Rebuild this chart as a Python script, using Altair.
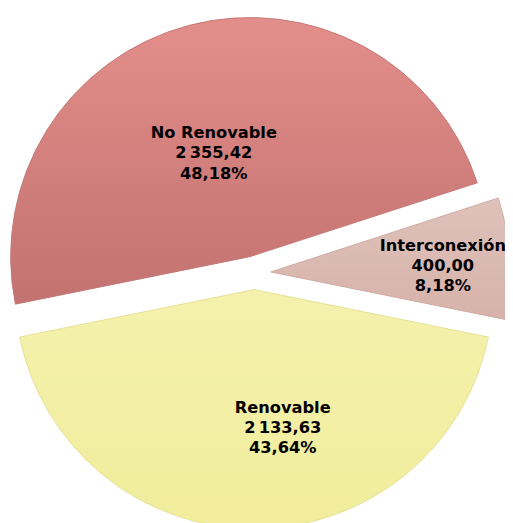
import math
import altair as alt
import pandas as pd

# ---- data ----
categories = ["Interconexión", "Renovable", "No Renovable"]
values = [400.00, 2133.63, 2355.42]
order = [0, 1, 2]


def es_num(v):
    s = f"{v:,.2f}"
    return s.replace(",", "\u2009").replace(".", ",")


total = sum(values)
labels = [
    f"{c}\n{es_num(v)}\n{es_num(100 * v / total)}%" for c, v in zip(categories, values)
]

df = pd.DataFrame({"cat": categories, "value": values, "order": order, "label": labels})

# ---- styling / layout constants ----
T0 = math.radians(72)  # start angle of the first slice (clockwise from 12 o'clock)
CX, CY = 250, 265      # pie centre inside the plot area
EXPLODE = 17           # explode distance in px
R = 243

theta_scale = alt.Scale(domain=[0, 1], range=[T0, T0 + 2 * math.pi])
x_enc = alt.X("ex:Q", scale=alt.Scale(domain=[-1, 1], range=[CX - EXPLODE, CX + EXPLODE]), axis=None)
y_enc = alt.Y("ey:Q", scale=alt.Scale(domain=[-1, 1], range=[CY + EXPLODE, CY - EXPLODE]), axis=None)

base = (
    alt.Chart(df)
    .transform_joinaggregate(total="sum(value)")
    .transform_window(cum="sum(value)", sort=[alt.SortField("order", order="ascending")])
    .transform_calculate(
        f0="(datum.cum - datum.value) / datum.total",
        f1="datum.cum / datum.total",
        fm="(datum.cum - datum.value / 2) / datum.total",
    )
    .transform_calculate(
        ex=f"sin({T0} + 2 * PI * datum.fm)",
        ey=f"cos({T0} + 2 * PI * datum.fm)",
    )
)


def grad(c_top, c_bottom):
    return alt.LinearGradient(
        gradient="linear",
        x1=0, y1=0, x2=0, y2=1,
        stops=[alt.GradientStop(color=c_top, offset=0), alt.GradientStop(color=c_bottom, offset=1)],
    )


fills = {
    "No Renovable": (grad("#e38e8b", "#c27270"), "#c47977"),
    "Renovable": (grad("#f4f1ad", "#f1ed9c"), "#e6e196"),
    "Interconexión": (grad("#dfc2ba", "#d6b2aa"), "#cfaba3"),
}

label_pos = {
    "No Renovable": (111, -0.079),
    "Renovable": (144, -0.204),
    "Interconexión": (175, 0.023),
}

LINE_H = 20.5

layers = []
for cat in categories:
    fill, stroke = fills[cat]
    layers.append(
        base.transform_filter(alt.datum.cat == cat)
        .mark_arc(radius=R, fill=fill, stroke=stroke, strokeWidth=1)
        .encode(theta=alt.Theta("f0:Q", scale=theta_scale), theta2="f1:Q", x=x_enc, y=y_enc)
    )

for cat in categories:
    rad, toff = label_pos[cat]
    layers.append(
        base.transform_filter(alt.datum.cat == cat)
        .mark_text(
            radius=rad,
            thetaOffset=toff,
            dy=-LINE_H,
            font="DejaVu Sans",
            fontSize=16.5,
            fontWeight="bold",
            lineBreak="\n",
            lineHeight=LINE_H,
            align="center",
            baseline="middle",
            color="#000000",
        )
        .encode(theta=alt.Theta("fm:Q", scale=theta_scale), x=x_enc, y=y_enc, text="label:N")
    )

chart = (
    alt.layer(*layers)
    .properties(width=505, height=515, padding=0, autosize=alt.AutoSizeParams(type="none"))
    .configure_view(strokeWidth=0)
)

chart.save("out.html", embed_options={"renderer": "svg", "actions": False})
